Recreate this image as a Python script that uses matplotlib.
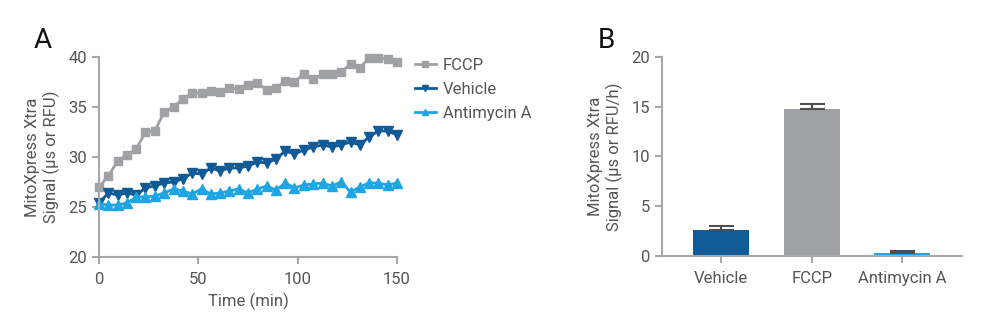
import matplotlib
matplotlib.use("Agg")
import matplotlib.pyplot as plt

plt.rcParams['font.family'] = ['Roboto', 'DejaVu Sans']

# ---- Panel A data ----
time_min = [0, 4.7, 9.4, 14.1, 18.8, 23.4, 28.1, 32.8, 37.5, 42.2, 46.9, 51.6, 56.3,
            60.9, 65.6, 70.3, 75.0, 79.7, 84.4, 89.1, 93.8, 98.4, 103.1, 107.8, 112.5,
            117.2, 121.9, 126.6, 131.3, 135.9, 140.6, 145.3, 150.0]
fccp = [27.0, 28.1, 29.6, 30.2, 30.8, 32.5, 32.6, 34.5, 35.0, 35.8, 36.4, 36.4, 36.6,
        36.5, 36.9, 36.8, 37.2, 37.4, 36.7, 36.9, 37.6, 37.5, 38.3, 37.8, 38.3,
        38.3, 38.5, 39.3, 38.9, 39.9, 39.9, 39.8, 39.5]
vehicle = [25.4, 26.4, 26.2, 26.4, 26.2, 26.9, 27.1, 27.4, 27.5, 27.8, 28.4, 28.3, 28.9,
           28.6, 28.9, 28.9, 29.1, 29.5, 29.4, 29.8, 30.6, 30.3, 30.7, 31.0, 31.2,
           31.0, 31.2, 31.5, 31.2, 32.0, 32.6, 32.6, 32.2]
antimycin = [25.3, 25.2, 25.2, 25.4, 26.0, 26.0, 26.1, 26.4, 26.8, 26.6, 26.3, 26.8, 26.3,
             26.4, 26.6, 26.8, 26.4, 26.8, 27.1, 26.7, 27.4, 26.9, 27.2, 27.3, 27.4,
             27.1, 27.5, 26.5, 27.0, 27.4, 27.4, 27.2, 27.4]

# ---- Panel B data ----
bar_labels = ["Vehicle", "FCCP", "Antimycin A"]
bar_values = [2.58, 14.8, 0.27]
bar_errors = [0.43, 0.48, 0.27]

c_gray = "#A0A1A4"
c_dark = "#0F5A97"
c_light = "#1DA6E3"
spine_c = "#A8A8A8"
text_c = "#555555"
fs = 12

fig = plt.figure(figsize=(10, 3.28), dpi=100)

# Panel A
ax1 = fig.add_axes([0.099, 0.2165, 0.298, 0.6098])
ax1.plot(time_min, fccp, color=c_gray, marker='s', markersize=5.5, lw=2.0, label="FCCP", clip_on=False)
ax1.plot(time_min, vehicle, color=c_dark, marker='v', markersize=6.5, lw=2.0, label="Vehicle", clip_on=False)
ax1.plot(time_min, antimycin, color=c_light, marker='^', markersize=6.5, lw=2.0, label="Antimycin A", clip_on=False)
ax1.set_xlim(0, 150)
ax1.set_ylim(20, 40)
ax1.set_xticks([0, 50, 100, 150])
ax1.set_yticks([20, 25, 30, 35, 40])
ax1.set_xlabel("Time (min)", fontsize=fs, color=text_c, labelpad=4)
ax1.set_ylabel("MitoXpress Xtra\nSignal (µs or RFU)", fontsize=fs, color=text_c, labelpad=6)
leg = ax1.legend(loc='upper left', bbox_to_anchor=(1.01, 1.07), frameon=False, fontsize=fs,
                 handlelength=1.25, handletextpad=0.42, labelspacing=0.55, markerscale=0.7)
for t in leg.get_texts():
    t.set_color(text_c)

# Panel B
ax2 = fig.add_axes([0.6617, 0.2195, 0.300, 0.6076])
xpos = list(range(len(bar_labels)))
ax2.bar(xpos, bar_values, width=0.62, color=[c_dark, c_gray, c_light],
        yerr=[[0] * len(bar_errors), bar_errors], capsize=9,
        error_kw=dict(ecolor="#505050", elinewidth=1.5, capthick=1.5))
ax2.set_xlim(-0.66, 2.66)
ax2.set_ylim(0, 20)
ax2.set_yticks([0, 5, 10, 15, 20])
ax2.set_xticks(xpos)
ax2.set_xticklabels(bar_labels)
ax2.set_ylabel("MitoXpress Xtra\nSignal (µs or RFU/h)", fontsize=fs, color=text_c, labelpad=6)

for ax in (ax1, ax2):
    for s in ('top', 'right'):
        ax.spines[s].set_visible(False)
    for s in ('left', 'bottom'):
        ax.spines[s].set_color(spine_c)
        ax.spines[s].set_linewidth(1.5)
    ax.tick_params(axis='both', colors=spine_c, labelcolor=text_c, labelsize=fs,
                   length=5, width=1.5)
    ax.tick_params(axis='x', pad=6)

fig.text(0.043, 0.875, "A", fontsize=20, color="#111111", ha='center', va='center')
fig.text(0.606, 0.875, "B", fontsize=20, color="#111111", ha='center', va='center')

fig.savefig("out.png", dpi=100)
